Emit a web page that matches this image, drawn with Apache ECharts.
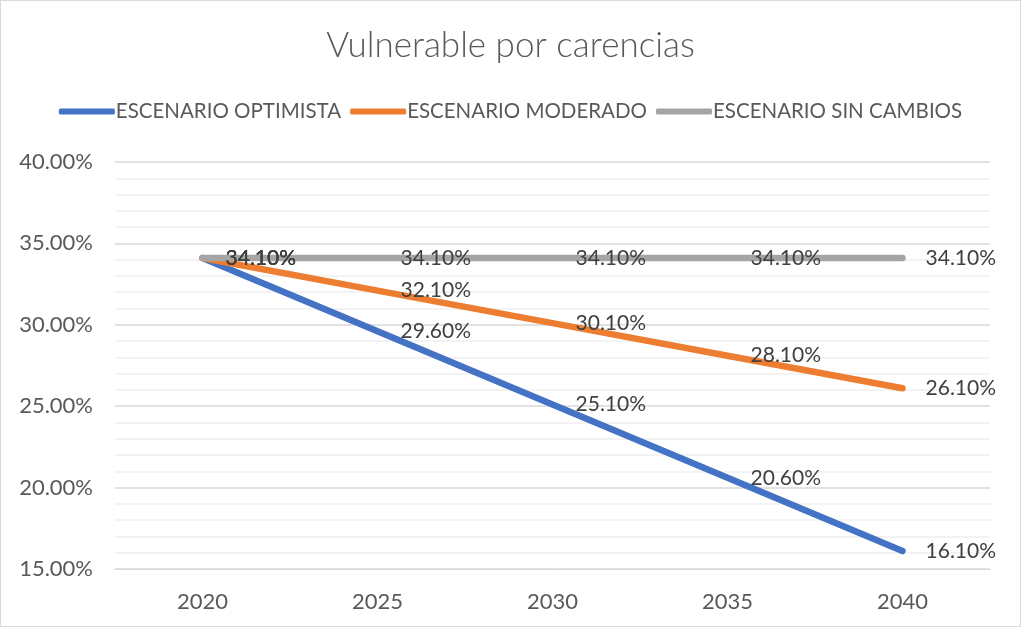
<!DOCTYPE html>
<html><head><meta charset="utf-8">
<script src="https://cdn.jsdelivr.net/npm/echarts@6/dist/echarts.min.js"></script>
<style>html,body{margin:0;padding:0;background:#fff}#c{width:1019px;height:625px;border:1px solid #D9D9D9}</style>
</head><body><div id="c"></div>
<script>
const title = 'Vulnerable por carencias';
const years = ['2020','2025','2030','2035','2040'];
const seriesNames = ['ESCENARIO OPTIMISTA','ESCENARIO MODERADO','ESCENARIO SIN CAMBIOS'];
const optimista = [34.1, 29.6, 25.1, 20.6, 16.1];
const moderado = [34.1, 32.1, 30.1, 28.1, 26.1];
const sinCambios = [34.1, 34.1, 34.1, 34.1, 34.1];
const colors = ['#4472C4','#ED7D31','#A5A5A5'];
const FONT = 'Lato, "Open Sans", sans-serif';
const chart = echarts.init(document.getElementById('c'));
const mk = (name, data, color) => ({
  name, type:'line', data, color, symbol:'circle', symbolSize:0.1, showSymbol:true, smooth:false,
  itemStyle:{color},
  lineStyle:{width:6.5, color, cap:'round', join:'round'},
  label:{show:true, position:'right', distance:23, color:'#404040', fontSize:21, fontFamily:FONT,
    formatter:p=>p.value.toFixed(2)+'%'},
  labelLayout:{hideOverlap:false},
  emphasis:{disabled:true}, animation:false
});
chart.setOption({
  animation:false,
  title:{text:title, left:'center', top:22, textStyle:{fontFamily:FONT, fontWeight:300, fontSize:35, color:'#595959'}},
  legend:{top:95, left:'center', itemWidth:56, itemHeight:6, itemGap:9, icon:'roundRect',
    textStyle:{fontFamily:FONT, fontSize:20.5, color:'#595959', padding:[0,0,0,-4]}, data:seriesNames},
  grid:{left:114, right:30, top:161, bottom:57},
  xAxis:{type:'category', data:years, boundaryGap:true,
    axisLine:{show:true, lineStyle:{color:'#D9D9D9'}}, axisTick:{show:false},
    axisLabel:{fontFamily:FONT, fontSize:22, color:'#595959', margin:22}},
  yAxis:{type:'value', min:15, max:40, interval:5,
    axisLabel:{fontFamily:FONT, fontSize:22, color:'#595959', margin:22, formatter:v=>v.toFixed(2)+'%'},
    axisLine:{show:false}, axisTick:{show:false},
    splitLine:{lineStyle:{color:'#D9D9D9', width:1.5}},
    minorTick:{show:false, splitNumber:5},
    minorSplitLine:{show:true, lineStyle:{color:'#F0F0F0', width:1.5}}},
  series:[mk(seriesNames[0], optimista, colors[0]), mk(seriesNames[1], moderado, colors[1]), mk(seriesNames[2], sinCambios, colors[2])]
});
</script></body></html>
